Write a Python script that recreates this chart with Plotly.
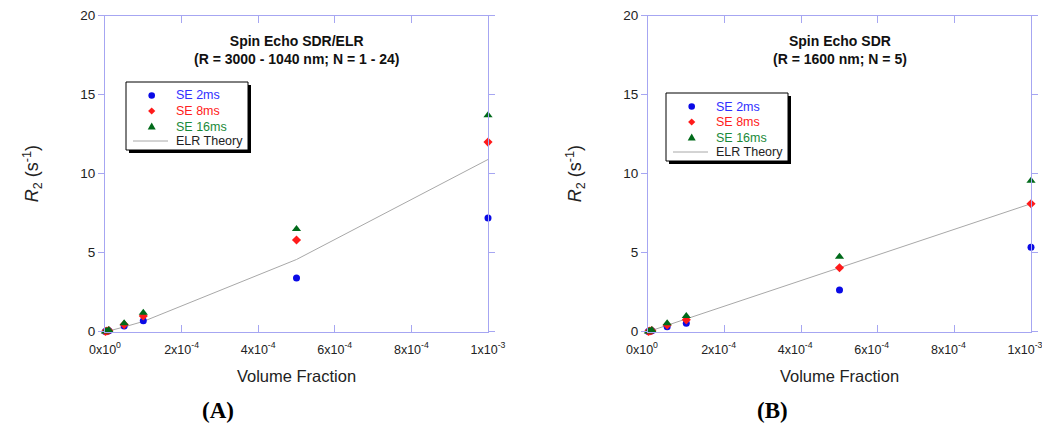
import plotly.graph_objects as go

# page body has an 8px margin, so the figure is drawn at (8, 8) in the window
OFF = 8
W, H = 1042, 415

# ---- data ----
vol_frac = [1e-6, 5e-6, 1e-5, 5e-5, 1e-4, 5e-4, 1e-3]

a_se2 = [0.01, 0.03, 0.06, 0.36, 0.70, 3.4, 7.2]
a_se8 = [0.01, 0.04, 0.08, 0.45, 1.0, 5.8, 12.0]
a_se16 = [0.02, 0.05, 0.10, 0.53, 1.2, 6.5, 13.7]
a_theory = [0.005, 0.02, 0.05, 0.30, 0.65, 4.57, 10.9]

b_se2 = [0.01, 0.03, 0.06, 0.32, 0.53, 2.64, 5.35]
b_se8 = [0.01, 0.04, 0.08, 0.42, 0.75, 4.05, 8.1]
b_se16 = [0.02, 0.05, 0.10, 0.53, 1.0, 4.75, 9.55]
b_theory = [0.008, 0.04, 0.08, 0.41, 0.81, 4.05, 8.1]

x_tickvals = [0, 2e-4, 4e-4, 6e-4, 8e-4, 1e-3]
x_ticktext = ["0x10<sup>0</sup>", "2x10<sup>-4</sup>", "4x10<sup>-4</sup>",
              "6x10<sup>-4</sup>", "8x10<sup>-4</sup>", "1x10<sup>-3</sup>"]
y_tickvals = [0, 5, 10, 15, 20]

titles = ["<b>Spin Echo SDR/ELR</b><br><b>(R = 3000 - 1040 nm; N = 1 - 24)</b>",
          "<b>Spin Echo SDR</b><br><b>(R = 1600 nm; N = 5)</b>"]
panel_labels = ["(A)", "(B)"]
legend_names = ["SE 2ms", "SE 8ms", "SE 16ms", "ELR Theory"]

C_BLUE, C_RED, C_GREEN, C_GRAY = "#0a0ae6", "#ff1a1a", "#006a1a", "#a8a8a8"
TXT_COLORS = ["#3030ff", "#ff2020", "#1a8a3a", "#222222"]
AXC = "#a6a6f2"
FONT = "Liberation Sans, Arial, sans-serif"


def px(x):
    return (x - OFF) / W


def py(y):
    return 1 - (y - OFF) / H


fig = go.Figure()

panels = [
    dict(series=(a_se2, a_se8, a_se16, a_theory), xa="x", ya="y"),
    dict(series=(b_se2, b_se8, b_se16, b_theory), xa="x2", ya="y2"),
]

for p in panels:
    s2, s8, s16, th = p["series"]
    fig.add_trace(go.Scatter(x=vol_frac, y=th, mode="lines", name=legend_names[3],
                             line=dict(color=C_GRAY, width=1), xaxis=p["xa"], yaxis=p["ya"]))
    fig.add_trace(go.Scatter(x=vol_frac, y=s2, mode="markers", name=legend_names[0],
                             marker=dict(symbol="circle", size=7, color=C_BLUE),
                             xaxis=p["xa"], yaxis=p["ya"], cliponaxis=False))
    fig.add_trace(go.Scatter(x=vol_frac, y=s8, mode="markers", name=legend_names[1],
                             marker=dict(symbol="diamond", size=7, color=C_RED),
                             xaxis=p["xa"], yaxis=p["ya"], cliponaxis=False))
    fig.add_trace(go.Scatter(x=vol_frac, y=s16, mode="markers", name=legend_names[2],
                             marker=dict(symbol="triangle-up", size=8, color=C_GREEN),
                             xaxis=p["xa"], yaxis=p["ya"], cliponaxis=False))

ydom = [py(331.7), py(15.7)]
xdoms = [[px(105), px(488)], [px(648), px(1031)]]

xcommon = dict(range=[0, 1e-3], tickvals=x_tickvals, ticktext=x_ticktext, automargin=False,
               showgrid=False, zeroline=False, showline=True, linecolor=AXC, linewidth=1,
               mirror="ticks", ticks="inside", ticklen=7, tickcolor=AXC,
               ticklabeloverflow="allow", ticklabelstandoff=6,
               tickfont=dict(family=FONT, size=12.5, color="#222222"),
               title=dict(text="Volume Fraction", font=dict(family=FONT, size=16.5, color="#222222"),
                          standoff=14))
ycommon = dict(range=[0, 20], tickvals=y_tickvals, automargin=False,
               showgrid=False, zeroline=False, showline=True, linecolor=AXC, linewidth=1,
               mirror="ticks", ticks="outside", ticklen=6, tickcolor=AXC,
               ticklabeloverflow="allow",
               tickfont=dict(family=FONT, size=13.5, color="#222222"),
               title=dict(text="<i>R</i><sub>2</sub> (s<sup>-1</sup>)",
                          font=dict(family=FONT, size=18, color="#222222"), standoff=36))

fig.update_layout(
    width=W, height=H, margin=dict(l=0, r=0, t=0, b=0),
    paper_bgcolor="white", plot_bgcolor="white", showlegend=False,
    xaxis=dict(domain=xdoms[0], anchor="y", **xcommon),
    yaxis=dict(domain=ydom, anchor="x", **ycommon),
    xaxis2=dict(domain=xdoms[1], anchor="y2", ticklabelshift=-6, **xcommon),
    yaxis2=dict(domain=ydom, anchor="x2", **ycommon),
)

# subplot titles and panel labels
for i, xd in enumerate(xdoms):
    fig.add_annotation(text=titles[i], xref="paper", yref="paper",
                       x=(xd[0] + xd[1]) / 2, y=py(50.5), xanchor="center", yanchor="middle",
                       showarrow=False, font=dict(family=FONT, size=14, color="#111111"),
                       align="center")
    fig.add_annotation(text="<b>" + panel_labels[i] + "</b>", xref="paper", yref="paper",
                       x=px([218, 772][i]), y=py(410), xanchor="center", yanchor="middle",
                       showarrow=False,
                       font=dict(family="Liberation Serif, Times New Roman, serif", size=23,
                                 color="black"))

# hand-drawn legend boxes (with drop shadow) in paper coordinates
LEG_W, LEG_H = 122, 68
row_dy = [13.5, 29, 44.5, 59]
for (bx, by) in [(126, 82), (666, 93)]:
    fig.add_shape(type="rect", xref="paper", yref="paper",
                  x0=px(bx + 3), x1=px(bx + LEG_W + 3), y0=py(by + 3), y1=py(by + LEG_H + 3),
                  fillcolor="black", line=dict(width=0), layer="above")
    fig.add_shape(type="rect", xref="paper", yref="paper",
                  x0=px(bx), x1=px(bx + LEG_W), y0=py(by), y1=py(by + LEG_H),
                  fillcolor="white", line=dict(color="black", width=1), layer="above")
    mx = bx + 25.7
    r = 3.3
    yy = by + row_dy[0]
    fig.add_shape(type="circle", xref="paper", yref="paper",
                  x0=px(mx - r), x1=px(mx + r), y0=py(yy - r), y1=py(yy + r),
                  fillcolor=C_BLUE, line=dict(width=0), layer="above")
    d = 3.6
    yy = by + row_dy[1]
    fig.add_shape(type="path", xref="paper", yref="paper",
                  path=f"M {px(mx)} {py(yy - d)} L {px(mx + d)} {py(yy)} L {px(mx)} {py(yy + d)} L {px(mx - d)} {py(yy)} Z",
                  fillcolor=C_RED, line=dict(width=0), layer="above")
    t = 4
    yy = by + row_dy[2]
    fig.add_shape(type="path", xref="paper", yref="paper",
                  path=f"M {px(mx)} {py(yy - t)} L {px(mx + t)} {py(yy + t * 0.75)} L {px(mx - t)} {py(yy + t * 0.75)} Z",
                  fillcolor=C_GREEN, line=dict(width=0), layer="above")
    yy = by + row_dy[3]
    fig.add_shape(type="line", xref="paper", yref="paper",
                  x0=px(bx + 7), x1=px(bx + 42), y0=py(yy), y1=py(yy),
                  line=dict(color=C_GRAY, width=1), layer="above")
    for k in range(4):
        fig.add_annotation(text=legend_names[k], xref="paper", yref="paper",
                           x=px(bx + 47.5), y=py(by + row_dy[k]), xanchor="left", yanchor="middle",
                           showarrow=False,
                           font=dict(family=FONT, size=12.5, color=TXT_COLORS[k]))

fig.write_html("out.html")
